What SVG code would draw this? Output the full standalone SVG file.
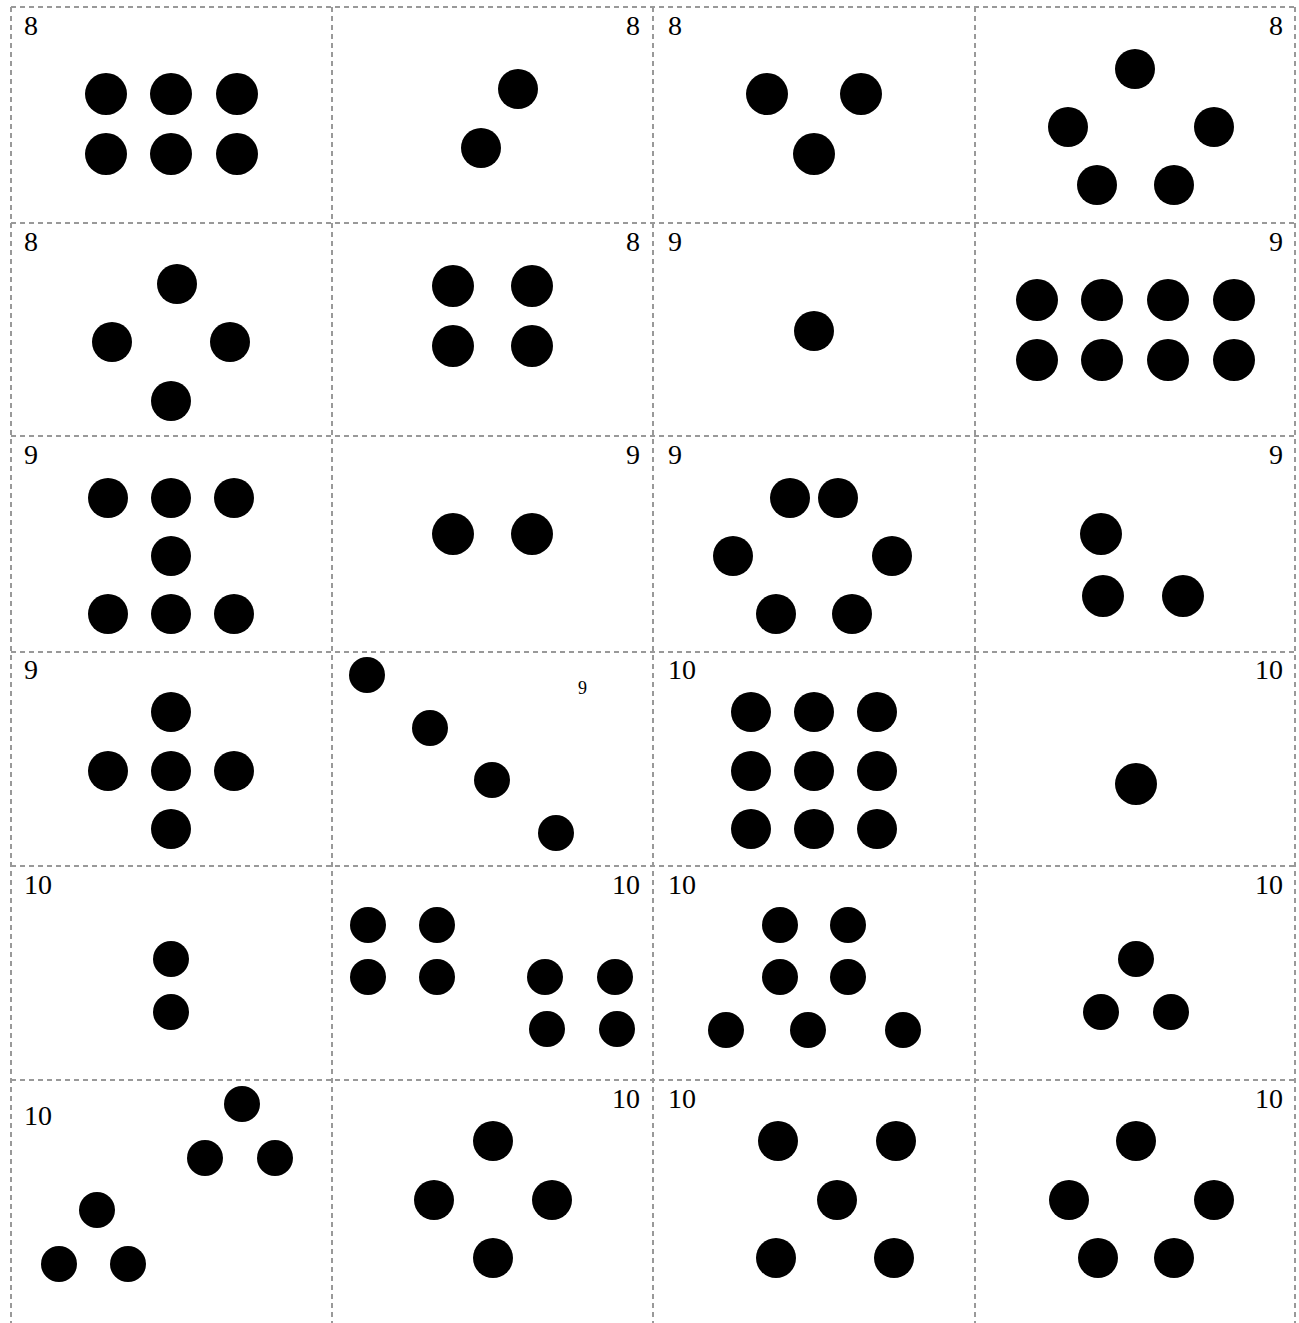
<svg xmlns="http://www.w3.org/2000/svg" width="1299" height="1323" viewBox="0 0 1299 1323">
<style>
.g{stroke:#999;stroke-width:2;stroke-dasharray:5 4;fill:none}
.t{font-family:"Liberation Serif","Times New Roman",serif;font-size:28px;fill:#000}
.r{text-anchor:end}
circle{fill:#000}
</style>
<rect width="1299" height="1323" fill="#fff"/>
<g id="grid">
<path class="g" d="M11 7V1323M332 7V1323M653 7V1323M975 7V1323M1295 7V1323"/>
<path class="g" d="M11 7H1295M11 223H1295M11 436H1295M11 652H1295M11 866H1295M11 1080H1295"/>
</g>
<g id="c11"><text class="t" x="24" y="35">8</text><circle cx="106" cy="94" r="21"/><circle cx="171" cy="94" r="21"/><circle cx="237" cy="94" r="21"/><circle cx="106" cy="154" r="21"/><circle cx="171" cy="154" r="21"/><circle cx="237" cy="154" r="21"/></g>
<g id="c12"><text class="t r" x="640" y="35">8</text><circle cx="518" cy="89" r="20"/><circle cx="481" cy="148" r="20"/></g>
<g id="c13"><text class="t" x="668" y="35">8</text><circle cx="767" cy="94" r="21"/><circle cx="861" cy="94" r="21"/><circle cx="814" cy="154" r="21"/></g>
<g id="c14"><text class="t r" x="1283" y="35">8</text><circle cx="1135" cy="69" r="20"/><circle cx="1068" cy="127" r="20"/><circle cx="1214" cy="127" r="20"/><circle cx="1097" cy="185" r="20"/><circle cx="1174" cy="185" r="20"/></g>
<g id="c21"><text class="t" x="24" y="251">8</text><circle cx="177" cy="284" r="20"/><circle cx="112" cy="342" r="20"/><circle cx="230" cy="342" r="20"/><circle cx="171" cy="401" r="20"/></g>
<g id="c22"><text class="t r" x="640" y="251">8</text><circle cx="453" cy="286" r="21"/><circle cx="532" cy="286" r="21"/><circle cx="453" cy="346" r="21"/><circle cx="532" cy="346" r="21"/></g>
<g id="c23"><text class="t" x="668" y="251">9</text><circle cx="814" cy="331" r="20"/></g>
<g id="c24"><text class="t r" x="1283" y="251">9</text><circle cx="1037" cy="300" r="21"/><circle cx="1102" cy="300" r="21"/><circle cx="1168" cy="300" r="21"/><circle cx="1234" cy="300" r="21"/><circle cx="1037" cy="360" r="21"/><circle cx="1102" cy="360" r="21"/><circle cx="1168" cy="360" r="21"/><circle cx="1234" cy="360" r="21"/></g>
<g id="c31"><text class="t" x="24" y="464">9</text><circle cx="108" cy="498" r="20"/><circle cx="171" cy="498" r="20"/><circle cx="234" cy="498" r="20"/><circle cx="171" cy="556" r="20"/><circle cx="108" cy="614" r="20"/><circle cx="171" cy="614" r="20"/><circle cx="234" cy="614" r="20"/></g>
<g id="c32"><text class="t r" x="640" y="464">9</text><circle cx="453" cy="534" r="21"/><circle cx="532" cy="534" r="21"/></g>
<g id="c33"><text class="t" x="668" y="464">9</text><circle cx="790" cy="498" r="20"/><circle cx="838" cy="498" r="20"/><circle cx="733" cy="556" r="20"/><circle cx="892" cy="556" r="20"/><circle cx="776" cy="614" r="20"/><circle cx="852" cy="614" r="20"/></g>
<g id="c34"><text class="t r" x="1283" y="464">9</text><circle cx="1101" cy="534" r="21"/><circle cx="1103" cy="596" r="21"/><circle cx="1183" cy="596" r="21"/></g>
<g id="c41"><text class="t" x="24" y="679">9</text><circle cx="171" cy="712" r="20"/><circle cx="108" cy="771" r="20"/><circle cx="171" cy="771" r="20"/><circle cx="234" cy="771" r="20"/><circle cx="171" cy="829" r="20"/></g>
<g id="c42"><text class="t" x="578" y="694" style="font-size:18px">9</text><circle cx="367" cy="675" r="18"/><circle cx="430" cy="728" r="18"/><circle cx="492" cy="780" r="18"/><circle cx="556" cy="833" r="18"/></g>
<g id="c43"><text class="t" x="668" y="679">10</text><circle cx="751" cy="712" r="20"/><circle cx="814" cy="712" r="20"/><circle cx="877" cy="712" r="20"/><circle cx="751" cy="771" r="20"/><circle cx="814" cy="771" r="20"/><circle cx="877" cy="771" r="20"/><circle cx="751" cy="829" r="20"/><circle cx="814" cy="829" r="20"/><circle cx="877" cy="829" r="20"/></g>
<g id="c44"><text class="t r" x="1283" y="679">10</text><circle cx="1136" cy="784" r="21"/></g>
<g id="c51"><text class="t" x="24" y="894">10</text><circle cx="171" cy="959" r="18"/><circle cx="171" cy="1012" r="18"/></g>
<g id="c52"><text class="t r" x="640" y="894">10</text><circle cx="368" cy="925" r="18"/><circle cx="437" cy="925" r="18"/><circle cx="368" cy="977" r="18"/><circle cx="437" cy="977" r="18"/><circle cx="545" cy="977" r="18"/><circle cx="615" cy="977" r="18"/><circle cx="547" cy="1029" r="18"/><circle cx="617" cy="1029" r="18"/></g>
<g id="c53"><text class="t" x="668" y="894">10</text><circle cx="780" cy="925" r="18"/><circle cx="848" cy="925" r="18"/><circle cx="780" cy="977" r="18"/><circle cx="848" cy="977" r="18"/><circle cx="726" cy="1030" r="18"/><circle cx="808" cy="1030" r="18"/><circle cx="903" cy="1030" r="18"/></g>
<g id="c54"><text class="t r" x="1283" y="894">10</text><circle cx="1136" cy="959" r="18"/><circle cx="1101" cy="1012" r="18"/><circle cx="1171" cy="1012" r="18"/></g>
<g id="c61"><text class="t" x="24" y="1125">10</text><circle cx="242" cy="1104" r="18"/><circle cx="205" cy="1158" r="18"/><circle cx="275" cy="1158" r="18"/><circle cx="97" cy="1210" r="18"/><circle cx="59" cy="1264" r="18"/><circle cx="128" cy="1264" r="18"/></g>
<g id="c62"><text class="t r" x="640" y="1108">10</text><circle cx="493" cy="1141" r="20"/><circle cx="434" cy="1200" r="20"/><circle cx="552" cy="1200" r="20"/><circle cx="493" cy="1258" r="20"/></g>
<g id="c63"><text class="t" x="668" y="1108">10</text><circle cx="778" cy="1141" r="20"/><circle cx="896" cy="1141" r="20"/><circle cx="837" cy="1200" r="20"/><circle cx="776" cy="1258" r="20"/><circle cx="894" cy="1258" r="20"/></g>
<g id="c64"><text class="t r" x="1283" y="1108">10</text><circle cx="1136" cy="1141" r="20"/><circle cx="1069" cy="1200" r="20"/><circle cx="1214" cy="1200" r="20"/><circle cx="1098" cy="1258" r="20"/><circle cx="1174" cy="1258" r="20"/></g>
</svg>
